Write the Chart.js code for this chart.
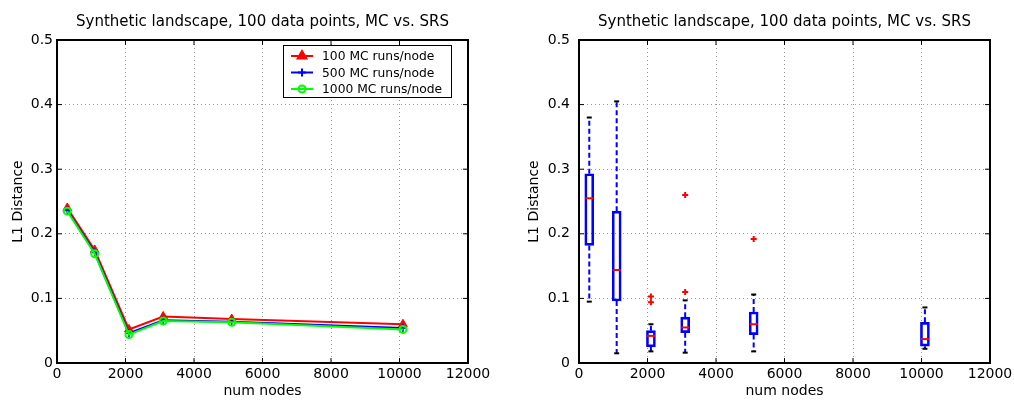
<!DOCTYPE html>
<html>
<head>
<meta charset="utf-8">
<script src="https://cdn.jsdelivr.net/npm/chart.js@4.4.0/dist/chart.umd.min.js"></script>
<style>
  body { margin: 0; background: #fff; }
  #wrap { position: relative; width: 1014px; height: 400px; }
  .pane { position: absolute; top: 0; width: 507px; height: 400px; }
</style>
</head>
<body>
<div id="wrap">
  <div class="pane" style="left:0"><canvas id="left"></canvas></div>
  <div class="pane" style="left:507px"><canvas id="right"></canvas></div>
</div>
<script>
// number of nodes (x positions, same for both panels)
const nodes = [300, 1100, 2100, 3100, 5100, 10100];

// left panel: MC runs per node
const mc100 = [0.240, 0.175, 0.052, 0.072, 0.068, 0.060];
const mc500 = [0.236, 0.171, 0.046, 0.066, 0.064, 0.054];
const mc1000 = [0.235, 0.169, 0.044, 0.065, 0.063, 0.052];

// right panel: SRS box plots
const srsMin = [0.095, 0.015, 0.018, 0.016, 0.018, 0.022];
const srsQ1 = [0.182, 0.096, 0.025, 0.047, 0.044, 0.026];
const srsMed = [0.255, 0.144, 0.042, 0.055, 0.060, 0.037];
const srsQ3 = [0.293, 0.235, 0.050, 0.071, 0.079, 0.063];
const srsMax = [0.380, 0.405, 0.060, 0.097, 0.106, 0.086];
const outlierX = [2100, 2100, 3100, 3100, 5100];
const outlierY = [0.103, 0.094, 0.260, 0.110, 0.192];

const xTicks = [0, 2000, 4000, 6000, 8000, 10000, 12000];
const yTicks = [0, 0.1, 0.2, 0.3, 0.4, 0.5];

const titleText = 'Synthetic landscape, 100 data points, MC vs. SRS';
const fontFamily = '"DejaVu Sans", Verdana, sans-serif';

Chart.defaults.font.family = fontFamily;
Chart.defaults.font.size = 14;
Chart.defaults.color = '#000';
Chart.defaults.animation = false;

// black box around the axes with inward ticks (matlab look)
const frame = {
  id: 'frame',
  afterDraw(chart) {
    const { ctx, chartArea: a, scales: { x, y } } = chart;
    ctx.save();
    ctx.strokeStyle = '#000';
    ctx.lineWidth = 1;
    ctx.beginPath();
    x.ticks.forEach(t => {
      const p = x.getPixelForValue(t.value);
      ctx.moveTo(p, a.bottom); ctx.lineTo(p, a.bottom - 5);
      ctx.moveTo(p, a.top); ctx.lineTo(p, a.top + 5);
    });
    y.ticks.forEach(t => {
      const p = y.getPixelForValue(t.value);
      ctx.moveTo(a.left, p); ctx.lineTo(a.left + 5, p);
      ctx.moveTo(a.right, p); ctx.lineTo(a.right - 5, p);
    });
    ctx.stroke();
    ctx.lineWidth = 2;
    ctx.strokeRect(a.left, a.top, a.width, a.height);
    ctx.restore();
  }
};

// legend box inside the plot, top right
const insideLegend = {
  id: 'insideLegend',
  afterDraw(chart, args, opts) {
    if (!opts.show) return;
    const { ctx, chartArea: a } = chart;
    const w = 168, h = 52;
    const x0 = a.right - 17 - w, y0 = a.top + 5;
    ctx.save();
    ctx.fillStyle = '#fff';
    ctx.fillRect(x0, y0, w, h);
    ctx.strokeStyle = '#000';
    ctx.lineWidth = 1;
    ctx.strokeRect(x0 + 0.5, y0 + 0.5, w, h);
    ctx.font = '12.3px ' + fontFamily;
    ctx.textBaseline = 'middle';
    const rows = [...chart.data.datasets].sort((p, q) => q.order - p.order);
    rows.forEach((ds, i) => {
      const yy = y0 + 11 + i * 16.5;
      ctx.strokeStyle = ds.borderColor;
      ctx.lineWidth = 2;
      ctx.beginPath();
      ctx.moveTo(x0 + 8, yy); ctx.lineTo(x0 + 30, yy);
      ctx.stroke();
      ctx.fillStyle = ds.pointBackgroundColor;
      ctx.strokeStyle = ds.borderColor;
      Chart.helpers.drawPoint(ctx, {
        pointStyle: ds.pointStyle, radius: ds.pointRadius,
        borderWidth: ds.pointBorderWidth, rotation: 0
      }, x0 + 19, yy);
      ctx.fillStyle = '#000';
      ctx.fillText(ds.label, x0 + 39, yy + 1);
    });
    ctx.restore();
  }
};

function baseOptions(padLeft, padRight, tickPad, labelPad) {
  return {
    responsive: false,
    layout: { padding: { left: padLeft, right: padRight, top: 0, bottom: 0 } },
    plugins: {
      legend: { display: false },
      tooltip: { enabled: false },
      title: {
        display: true, text: titleText, fullSize: false,
        font: { size: 15, weight: 'normal' },
        padding: { top: 13, bottom: 9 }
      }
    },
    scales: {
      x: {
        type: 'linear', min: 0, max: 12000, offset: false,
        afterBuildTicks: s => { s.ticks = xTicks.map(v => ({ value: v })); },
        afterFit: s => { s.height = 37; s.paddingLeft = 0; s.paddingRight = 0; },
        ticks: { padding: 3, maxRotation: 0, callback: v => String(v) },
        grid: { color: '#999', offset: false, drawTicks: false, tickLength: 0 },
        border: { display: false, dash: [1, 3] },
        title: { display: true, text: 'num nodes', padding: { top: 0, bottom: 0 } }
      },
      y: {
        type: 'linear', min: 0, max: 0.5,
        afterBuildTicks: s => { s.ticks = yTicks.map(v => ({ value: v })); },
        afterFit: s => { s.width = 57; s.paddingTop = 0; s.paddingBottom = 0; },
        ticks: { padding: tickPad, callback: v => String(v) },
        grid: { color: '#999', drawTicks: false, tickLength: 0 },
        border: { display: false, dash: [1, 3] },
        title: { display: true, text: 'L1 Distance', padding: { top: labelPad, bottom: 0 } }
      }
    }
  };
}

function toPoints(xs, ys) {
  return xs.map((x, i) => ({ x, y: ys[i] }));
}

// ---- left panel
const leftCanvas = document.getElementById('left');
leftCanvas.width = 507; leftCanvas.height = 400;
const leftOpts = baseOptions(0, 39, 4, 10);
leftOpts.plugins.insideLegend = { show: true };
new Chart(leftCanvas, {
  type: 'scatter',
  data: {
    datasets: [
      {
        label: '100 MC runs/node', data: toPoints(nodes, mc100), showLine: true,
        borderColor: '#ff0000', backgroundColor: '#ff0000', pointBackgroundColor: '#ff0000',
        borderWidth: 2, pointStyle: 'triangle', pointRadius: 5, pointBorderWidth: 1, order: 3
      },
      {
        label: '500 MC runs/node', data: toPoints(nodes, mc500), showLine: true,
        borderColor: '#0000ff', backgroundColor: '#0000ff', pointBackgroundColor: '#0000ff',
        borderWidth: 2, pointStyle: 'cross', pointRadius: 4, pointBorderWidth: 1.5, order: 2
      },
      {
        label: '1000 MC runs/node', data: toPoints(nodes, mc1000), showLine: true,
        borderColor: '#00ff00', backgroundColor: '#00ff00', pointBackgroundColor: 'rgba(0,0,0,0)',
        borderWidth: 2, pointStyle: 'circle', pointRadius: 3.5, pointBorderWidth: 2, order: 1
      }
    ]
  },
  options: leftOpts,
  plugins: [frame, insideLegend]
});

// ---- right panel
function whisker(from, to) {
  const pts = [];
  nodes.forEach((x, i) => {
    pts.push({ x, y: from[i] }, { x, y: to[i] }, { x, y: null });
  });
  return pts;
}

const rightCanvas = document.getElementById('right');
rightCanvas.width = 507; rightCanvas.height = 400;
new Chart(rightCanvas, {
  type: 'scatter',
  data: {
    datasets: [
      {
        type: 'bar', data: nodes.map((x, i) => ({ x, y: [srsQ1[i], srsQ3[i]] })),
        backgroundColor: 'rgba(0,0,0,0)', borderColor: '#0000ff', borderWidth: 2,
        borderSkipped: false, barThickness: 9, order: 3
      },
      {
        type: 'line', data: whisker(srsQ3, srsMax), borderColor: '#0000ff', borderWidth: 2,
        borderDash: [5, 3], pointRadius: 0, spanGaps: false, order: 4
      },
      {
        type: 'line', data: whisker(srsQ1, srsMin), borderColor: '#0000ff', borderWidth: 2,
        borderDash: [5, 3], pointRadius: 0, spanGaps: false, order: 4
      },
      {
        data: toPoints(nodes, srsMax).concat(toPoints(nodes, srsMin)),
        pointStyle: 'line', pointRadius: 2.5, pointBorderWidth: 2, borderColor: '#000', order: 2
      },
      {
        data: toPoints(nodes, srsMed), pointStyle: 'line', pointRadius: 4,
        pointBorderWidth: 2, borderColor: '#ff0000', order: 1
      },
      {
        data: toPoints(outlierX, outlierY),
        pointStyle: 'cross', pointRadius: 3, pointBorderWidth: 2, borderColor: '#ff0000', order: 1
      }
    ]
  },
  options: baseOptions(15, 24, 9, 4),
  plugins: [frame]
});
</script>
</body>
</html>
